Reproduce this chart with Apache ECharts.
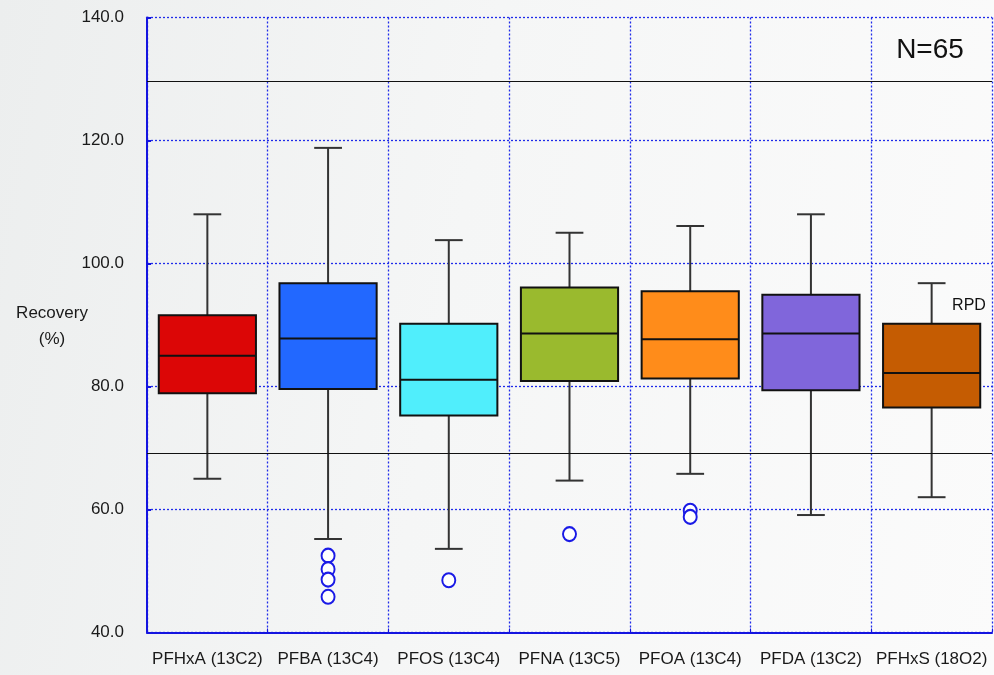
<!DOCTYPE html>
<html><head><meta charset="utf-8">
<script src="https://cdn.jsdelivr.net/npm/echarts@6/dist/echarts.min.js"></script>
<style>
html,body{margin:0;padding:0;width:994px;height:675px;overflow:hidden;
background:linear-gradient(100deg,#eceeee 0%,#f5f6f6 45%,#fbfbfb 100%);}
#c{width:994px;height:675px;}
</style>
</head><body><div id="c"></div>
<script>
const categories = ['PFHxA (13C2)','PFBA (13C4)','PFOS (13C4)','PFNA (13C5)','PFOA (13C4)','PFDA (13C2)','PFHxS (18O2)'];
const whiskerLow  = [65.0, 55.2, 53.6, 64.7, 65.8, 59.1, 62.0];
const q1          = [78.9, 79.6, 75.3, 80.9, 81.3, 79.4, 76.6];
const median      = [85.0, 87.8, 81.1, 88.6, 87.7, 88.6, 82.2];
const q3          = [91.6, 96.8, 90.2, 96.1, 95.5, 94.9, 90.2];
const whiskerHigh = [108.0, 118.8, 103.8, 105.0, 106.1, 108.0, 96.8];
const boxColors   = ['#dc0606','#2268ff','#50eefc','#9aba2e','#ff8c1a','#8066db','#c55c02'];
const outlierCategory = [1, 1, 1, 1, 2, 3, 4, 4];
const outlierValue    = [52.5, 50.3, 48.6, 45.8, 48.5, 56.0, 59.8, 58.8];
const limitLines = [129.6, 69.2];
const yMin = 40, yMax = 140, yStep = 20;
const yTitle = ['Recovery', '(%)'];
const countLabel = 'N=65';
const noteLabel = 'RPD';

const boxData = categories.map((c, i) => [i, whiskerLow[i], q1[i], median[i], q3[i], whiskerHigh[i]]);
const outlierData = outlierCategory.map((c, i) => [c, outlierValue[i]]);

const gridBlue = '#1f2bea';
const chart = echarts.init(document.getElementById('c'));
chart.setOption({
  animation: false,
  backgroundColor: 'transparent',
  textStyle: { fontFamily: 'Liberation Sans, Arial, sans-serif' },
  grid: { left: 147, right: 2, top: 17.5, bottom: 42.5, containLabel: false },
  xAxis: {
    type: 'category', data: categories, boundaryGap: true,
    axisLine: { show: true, lineStyle: { color: '#1414e0', width: 2 } },
    axisTick: { show: true, inside: true, length: 4, lineStyle: { color: '#1414e0', width: 1 } },
    axisLabel: { color: '#1a1a1a', fontSize: 17, margin: 18, interval: 0, fontFamily: 'Liberation Sans' },
    splitLine: { show: true, lineStyle: { color: gridBlue, width: 1.3, type: [2, 2] } }
  },
  yAxis: {
    type: 'value', min: yMin, max: yMax, interval: yStep,
    axisLine: { show: true, lineStyle: { color: '#1414e0', width: 2 } },
    axisTick: { show: true, inside: true, length: 4, lineStyle: { color: '#1414e0', width: 2 } },
    axisLabel: { color: '#1a1a1a', fontSize: 17, margin: 23, formatter: v => v.toFixed(1), fontFamily: 'Liberation Sans' },
    splitLine: { show: true, lineStyle: { color: gridBlue, width: 1.3, type: [2, 2] } }
  },
  series: [
    {
      type: 'custom',
      data: boxData,
      encode: { x: 0, y: [1, 2, 3, 4, 5] },
      z: 3,
      renderItem: function (params, api) {
        const i = api.value(0);
        const band = api.size([1, 0])[0];
        const bw = band * 0.805, cw = band * 0.23;
        const pLow = api.coord([i, api.value(1)]);
        const pQ1 = api.coord([i, api.value(2)]);
        const pMed = api.coord([i, api.value(3)]);
        const pQ3 = api.coord([i, api.value(4)]);
        const pHigh = api.coord([i, api.value(5)]);
        const x = pLow[0];
        const ws = { stroke: '#333', lineWidth: 2 };
        return { type: 'group', children: [
          { type: 'line', shape: { x1: x, y1: pHigh[1], x2: x, y2: pQ3[1] }, style: ws },
          { type: 'line', shape: { x1: x, y1: pQ1[1], x2: x, y2: pLow[1] }, style: ws },
          { type: 'line', shape: { x1: x - cw / 2, y1: pHigh[1], x2: x + cw / 2, y2: pHigh[1] }, style: ws },
          { type: 'line', shape: { x1: x - cw / 2, y1: pLow[1], x2: x + cw / 2, y2: pLow[1] }, style: ws },
          { type: 'rect', shape: { x: x - bw / 2, y: pQ3[1], width: bw, height: pQ1[1] - pQ3[1] },
            style: { fill: boxColors[i], stroke: '#111', lineWidth: 2 } },
          { type: 'line', shape: { x1: x - bw / 2, y1: pMed[1], x2: x + bw / 2, y2: pMed[1] }, style: { stroke: '#111', lineWidth: 2 } }
        ] };
      }
    },
    {
      type: 'scatter',
      data: outlierData,
      symbol: 'emptyCircle',
      symbolSize: [13, 14],
      z: 4,
      itemStyle: { color: '#1a1ae6', borderWidth: 2, opacity: 1 },
      markLine: {
        silent: true, symbol: 'none', label: { show: false },
        lineStyle: { color: '#111', width: 1.2, type: 'solid' },
        data: limitLines.map(v => ({ yAxis: v }))
      }
    }
  ],
  graphic: [
    { type: 'text', x: 52, y: 313, style: { text: yTitle[0], font: '17px Liberation Sans', fill: '#1a1a1a', textAlign: 'center', textVerticalAlign: 'middle' } },
    { type: 'text', x: 52, y: 339, style: { text: yTitle[1], font: '17px Liberation Sans', fill: '#1a1a1a', textAlign: 'center', textVerticalAlign: 'middle' } },
    { type: 'text', x: 930, y: 50, style: { text: countLabel, font: '28px Liberation Sans', fill: '#111', textAlign: 'center', textVerticalAlign: 'middle' } },
    { type: 'text', x: 969, y: 306, style: { text: noteLabel, font: '16px Liberation Sans', fill: '#111', textAlign: 'center', textVerticalAlign: 'middle' } }
  ]
});
</script>
</body></html>
